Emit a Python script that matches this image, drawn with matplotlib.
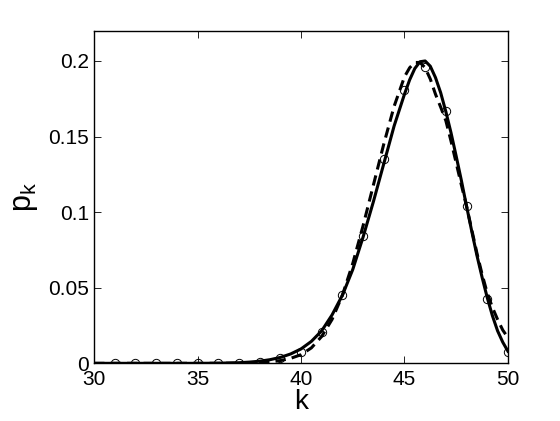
import numpy as np
import matplotlib.pyplot as plt

plt.rcParams['font.family'] = ['Liberation Sans', 'DejaVu Sans']

# observed probabilities (circles)
k_obs = np.arange(31, 51)
p_obs = [0.0, 0.0, 0.0, 0.0, 0.0, 0.0, 0.0, 0.0007, 0.0033, 0.0077,
         0.021, 0.045, 0.0845, 0.135, 0.1805, 0.196, 0.167, 0.104, 0.0424, 0.0077]

# solid curve
k_solid = [30, 35, 36, 37, 37.5, 38, 38.5, 39, 39.5, 40, 40.5, 41, 41.5, 42, 42.5,
           43, 43.5, 44, 44.5, 45, 45.25, 45.5, 45.75, 46, 46.25, 46.5, 46.75,
           47, 47.25, 47.5, 47.75, 48, 48.25, 48.5, 48.75, 49, 49.25, 49.5, 49.75, 50]
p_solid = [0.0, 0.0, 0.0001, 0.0004, 0.0008, 0.0014, 0.0024, 0.0039, 0.0062, 0.0095,
           0.0145, 0.0215, 0.032, 0.045, 0.062, 0.0835, 0.107, 0.132, 0.157, 0.178,
           0.1875, 0.195, 0.1995, 0.2, 0.1965, 0.189, 0.179, 0.1665, 0.1525, 0.137,
           0.121, 0.104, 0.0875, 0.0715, 0.057, 0.0435, 0.0315, 0.0215, 0.014, 0.008]

# dashed curve
k_dash = [30, 36, 37, 38, 38.5, 39, 39.5, 40, 40.5, 41, 41.5, 42, 42.5, 43, 43.5,
          44, 44.5, 45, 45.25, 45.5, 45.75, 46, 46.25, 46.5, 46.75, 47, 47.25,
          47.5, 47.75, 48, 48.25, 48.5, 48.75, 49, 49.25, 49.5, 49.75, 50]
p_dash = [0.0, 0.0, 0.0001, 0.0004, 0.0009, 0.0018, 0.0033, 0.0057, 0.0102, 0.0178,
          0.029, 0.045, 0.066, 0.091, 0.118, 0.145, 0.17, 0.1895, 0.1955, 0.199,
          0.199, 0.1955, 0.188, 0.178, 0.1695, 0.1605, 0.147, 0.1325, 0.118, 0.104,
          0.0885, 0.073, 0.059, 0.0465, 0.037, 0.029, 0.022, 0.017]

fig = plt.figure(figsize=(5.6, 4.21), dpi=100)
ax = fig.add_axes([0.168, 0.137, 0.739, 0.79])

ax.plot(k_solid, p_solid, 'k-', lw=2.2)
ax.plot(k_dash, p_dash, 'k--', lw=2.2, dashes=(3.4, 2.0))
ax.plot(k_obs, p_obs, 'o', mfc='none', mec='k', ms=6, mew=0.7)

ax.set_xlim(30, 50)
ax.set_ylim(0, 0.22)
ax.set_xticks([30, 35, 40, 45, 50])
ax.set_yticks([0, 0.05, 0.1, 0.15, 0.2])
ax.set_yticklabels(['0', '0.05', '0.1', '0.15', '0.2'])
ax.tick_params(direction='in', top=True, right=True, labelsize=15, length=5, width=0.6)
ax.tick_params(axis='x', pad=5)
for s in ax.spines.values():
    s.set_linewidth(1.0)

ax.set_xlabel('k', fontsize=20, labelpad=0)
ax.set_ylabel(r'$\mathregular{p_k}$', fontsize=22, labelpad=6)

fig.savefig('out.png')
